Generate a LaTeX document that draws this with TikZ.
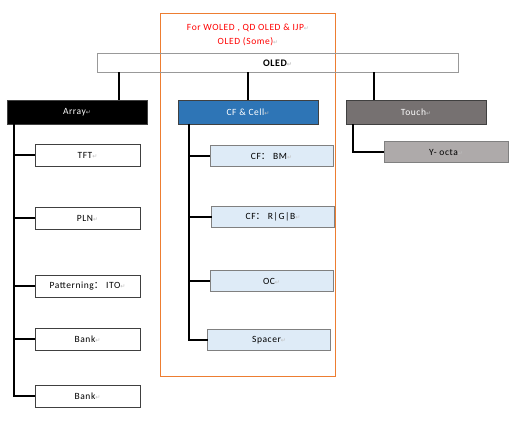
\documentclass[tikz,border=0pt]{standalone}
\usepackage{fontspec}
\setmainfont{Carlito}[LetterSpace=6]
\newfontfamily\cjk{Noto Sans CJK SC}
\newfontfamily\symfont{DejaVu Sans}
\usepackage{xcolor}
\definecolor{CellBlue}{HTML}{2E75B6}
\definecolor{CellPale}{HTML}{DEEBF7}
\definecolor{TouchGray}{HTML}{767171}
\definecolor{OctaGray}{HTML}{AEAAAA}
\definecolor{NoteRed}{HTML}{FF0000}
\definecolor{FrameOrange}{HTML}{ED7D31}
\definecolor{MarkGray}{HTML}{BFBFBF}
\usepackage{tikz}
\usetikzlibrary{positioning}
\newcommand{\pmark}{{\symfont\fontsize{6}{6}\selectfont\textcolor{MarkGray}{↵}}}
\newcommand{\fcolon}{{\cjk ：}}

\begin{document}
\begin{tikzpicture}[x=1pt,y=-1pt, every node/.style={font=\fontsize{9.5}{11}\selectfont},
  topbox/.style={draw=black!75,line width=0.8pt,text=white,minimum width=140pt,minimum height=24pt,inner sep=0pt,outer sep=0pt},
  arraybox/.style={draw=black!75,fill=white,line width=0.7pt,minimum width=105pt,minimum height=22pt,inner sep=0pt,outer sep=0pt},
  cellbox/.style={draw=black!50,fill=CellPale,line width=1pt,minimum width=123pt,minimum height=21pt,inner sep=0pt,outer sep=0pt},
  link/.style={line width=1.3pt,black}]
\useasboundingbox (0,0) rectangle (510,422);
% frame round the colour-filter part
\node[draw=FrameOrange,line width=1pt,minimum width=175pt,minimum height=362pt,inner sep=0pt] (frame) at (247.5,195) {};
\node[text=NoteRed,align=center,font=\fontsize{9.5}{14}\selectfont] (note) at (248,35) {For WOLED , QD OLED \& IJP\pmark\\OLED (Some)\pmark};
\node[draw=black!40,line width=1pt,minimum width=361pt,minimum height=19pt,inner sep=0pt,outer sep=0pt,font=\fontsize{10}{11}\selectfont\bfseries] (oled) at (277.5,63) {OLED\pmark};
% first level
\node[topbox,fill=black] (array) at (77,112) {Array\pmark};
\node[topbox,fill=CellBlue,right=31pt of array] (cell) {CF \& Cell\pmark};
\node[topbox,fill=TouchGray,right=28pt of cell] (touch) {Touch\pmark};
\path ([xshift=42pt]array.north) coordinate (a0) ([xshift=-42pt]touch.north) coordinate (t0);
\draw[link] (a0 |- oled.south) -- (a0);
\draw[link] (oled.south -| cell.north) -- (cell.north);
\draw[link] (t0 |- oled.south) -- (t0);
% array steps
\node[arraybox] (tft) at (87.5,155) {TFT\pmark};
\node[arraybox] (pln) at (87.5,218) {PLN\pmark};
\node[arraybox] (ito) at (87.5,286) {Patterning\fcolon\ ITO\pmark};
\node[arraybox] (bank) at (87.5,339) {Bank\pmark};
\node[arraybox] (bankb) at (87.5,396) {Bank\pmark};
\foreach \c in {tft,pln,ito,bank,bankb}
  \draw[link] ([xshift=7pt]array.south west) |- (\c.west);
% colour filter and cell steps
\node[cellbox] (bm) at (271.5,156) {CF\fcolon\ BM\pmark};
\node[cellbox] (rgb) at (273,217) {CF\fcolon\ R|G|B\pmark};
\node[cellbox] (oc) at (271.5,281) {OC\pmark};
\node[cellbox] (spacer) at (269,340) {Spacer\pmark};
\foreach \c in {bm,rgb,oc,spacer}
  \draw[link] ([xshift=11pt]cell.south west) |- (\c.west);
% touch step
\node[cellbox,fill=OctaGray,minimum width=124pt] (octa) at (446,152) {Y- octa\pmark};
\draw[link] ([xshift=7pt]touch.south west) |- (octa.west);
\end{tikzpicture}
\end{document}
